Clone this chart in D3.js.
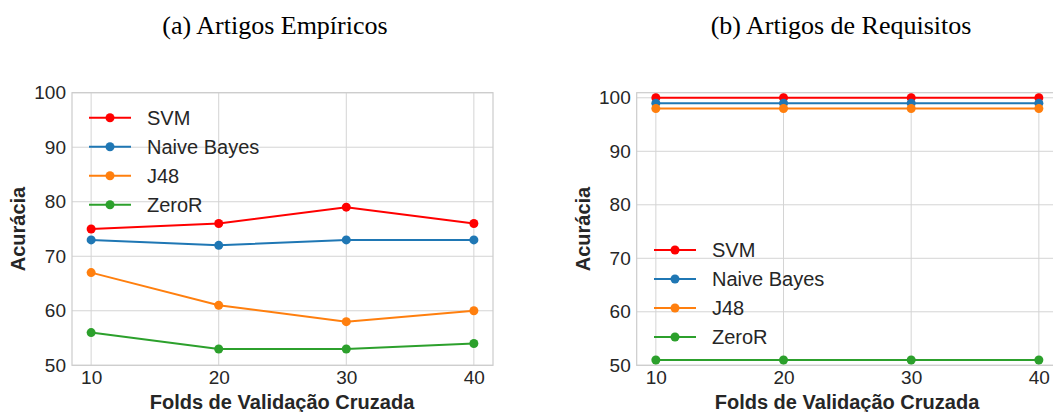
<!DOCTYPE html>
<html>
<head>
<meta charset="utf-8">
<script src="https://cdn.jsdelivr.net/npm/d3@7"></script>
<style>
  body { margin: 0; background: #fff; }
  text { fill: #262626; }
</style>
</head>
<body>
<div id="chart"></div>
<script>
const folds = [10, 20, 30, 40];
const seriesNames = ["SVM", "Naive Bayes", "J48", "ZeroR"];
const seriesColors = ["#ff0000", "#1f77b4", "#ff7f0e", "#2ca02c"];
const yTicks = [50, 60, 70, 80, 90, 100];

// (a) Artigos Empíricos
const empSVM = [75, 76, 79, 76];
const empNB = [73, 72, 73, 73];
const empJ48 = [67, 61, 58, 60];
const empZeroR = [56, 53, 53, 54];

// (b) Artigos de Requisitos
const reqSVM = [100, 100, 100, 100];
const reqNB = [99, 99, 99, 99];
const reqJ48 = [98, 98, 98, 98];
const reqZeroR = [51, 51, 51, 51];

const width = 1053, height = 412;
const svg = d3.select("#chart").append("svg")
  .attr("width", width).attr("height", height);

const panels = [
  {
    title: "(a)  Artigos Empíricos", titleX: 275,
    left: 72, right: 493, top: 92.7, bottom: 365.3,
    yMax: 100, series: [empSVM, empNB, empJ48, empZeroR],
    legendX: 89, legendY: 117.7, ylabX: 25, xlabX: 282
  },
  {
    title: "(b)  Artigos de Requisitos", titleX: 841,
    left: 636.7, right: 1058, top: 92.7, bottom: 365.3,
    yMax: 100.95, series: [reqSVM, reqNB, reqJ48, reqZeroR],
    legendX: 654, legendY: 250, ylabX: 590, xlabX: 847
  }
];

panels.forEach(p => {
  const x = d3.scaleLinear().domain([8.5, 41.5]).range([p.left, p.right]);
  const y = d3.scaleLinear().domain([50, p.yMax]).range([p.bottom, p.top]);
  const g = svg.append("g");

  svg.append("text")
    .attr("x", p.titleX).attr("y", 34)
    .attr("text-anchor", "middle")
    .style("font-family", "'Liberation Serif', 'Times New Roman', serif")
    .style("font-size", "26px")
    .style("fill", "#000")
    .text(p.title);

  // grid
  g.selectAll(".gy").data(yTicks).enter().append("line")
    .attr("x1", p.left).attr("x2", p.right)
    .attr("y1", d => y(d)).attr("y2", d => y(d))
    .attr("stroke", "#d4d4d4").attr("stroke-width", 1);
  g.selectAll(".gx").data(folds).enter().append("line")
    .attr("x1", d => x(d)).attr("x2", d => x(d))
    .attr("y1", p.top).attr("y2", p.bottom)
    .attr("stroke", "#d4d4d4").attr("stroke-width", 1);
  g.append("rect")
    .attr("x", p.left).attr("y", p.top)
    .attr("width", p.right - p.left).attr("height", p.bottom - p.top)
    .attr("fill", "none").attr("stroke", "#cccccc").attr("stroke-width", 1.2);

  // axes
  const yAxis = g.append("g")
    .attr("transform", `translate(${p.left},0)`)
    .call(d3.axisLeft(y).tickValues(yTicks).tickSize(0).tickPadding(6));
  const xAxis = g.append("g")
    .attr("transform", `translate(0,${p.bottom})`)
    .call(d3.axisBottom(x).tickValues(folds).tickSize(0).tickPadding(5));
  [yAxis, xAxis].forEach(a => {
    a.select(".domain").remove();
    a.selectAll("text")
      .style("font-family", "'Liberation Sans', Arial, sans-serif")
      .style("font-size", "19px")
      .style("fill", "#262626");
  });

  svg.append("text")
    .attr("x", p.xlabX)
    .attr("y", 409)
    .attr("text-anchor", "middle")
    .style("font-family", "'Liberation Sans', Arial, sans-serif")
    .style("font-size", "20px").style("font-weight", "bold")
    .text("Folds de Validação Cruzada");
  svg.append("text")
    .attr("transform", `translate(${p.ylabX},${(p.top + p.bottom) / 2}) rotate(-90)`)
    .attr("text-anchor", "middle")
    .style("font-family", "'Liberation Sans', Arial, sans-serif")
    .style("font-size", "20px").style("font-weight", "bold")
    .text("Acurácia");

  // series
  const line = d3.line().x((d, i) => x(folds[i])).y(d => y(d));
  p.series.forEach((vals, si) => {
    g.append("path").datum(vals)
      .attr("d", line)
      .attr("fill", "none")
      .attr("stroke", seriesColors[si]).attr("stroke-width", 2);
    g.selectAll(null).data(vals).enter().append("circle")
      .attr("cx", (d, i) => x(folds[i])).attr("cy", d => y(d))
      .attr("r", 4.5).attr("fill", seriesColors[si]);
  });

  // legend
  const lg = svg.append("g");
  seriesNames.forEach((name, si) => {
    const ly = p.legendY + si * 29;
    lg.append("line")
      .attr("x1", p.legendX).attr("x2", p.legendX + 42)
      .attr("y1", ly).attr("y2", ly)
      .attr("stroke", seriesColors[si]).attr("stroke-width", 2);
    lg.append("circle")
      .attr("cx", p.legendX + 21).attr("cy", ly).attr("r", 4.5)
      .attr("fill", seriesColors[si]);
    lg.append("text")
      .attr("x", p.legendX + 58).attr("y", ly).attr("dy", "0.35em")
      .style("font-family", "'Liberation Sans', Arial, sans-serif")
      .style("font-size", "20px")
      .text(name);
  });
});
</script>
</body>
</html>
